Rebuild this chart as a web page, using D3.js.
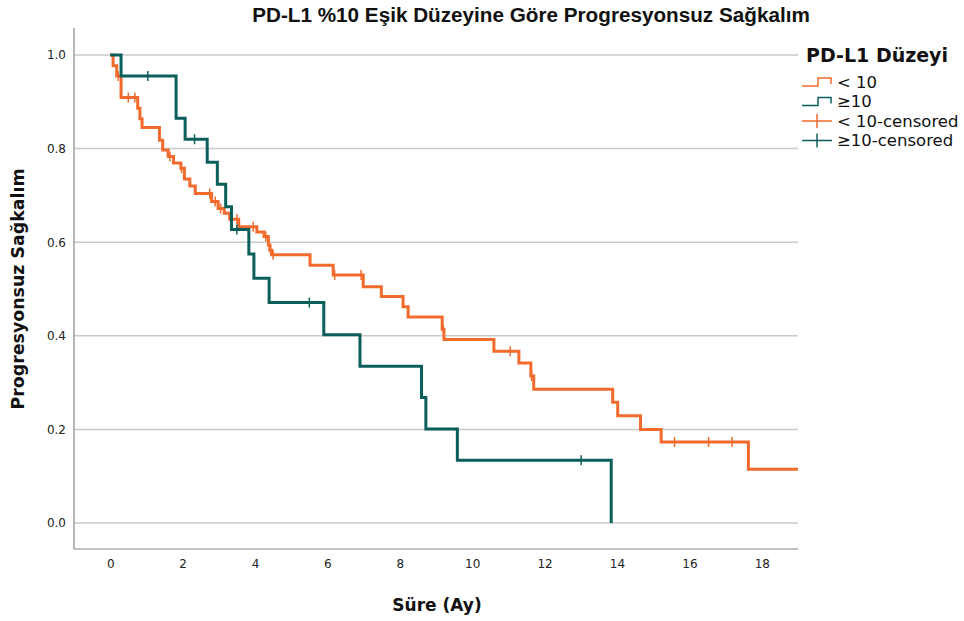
<!DOCTYPE html>
<html>
<head>
<meta charset="utf-8">
<script src="https://cdn.jsdelivr.net/npm/d3@7"></script>
<style>
  body { margin: 0; background: #fff; }
  text { font-family: "DejaVu Sans", Verdana, sans-serif; }
</style>
</head>
<body>
<svg id="chart" width="964" height="621"></svg>
<script>
// data
var groups = ["< 10", "≥10"];

// PD-L1 < 10 (orange)
var lowTimes = [0, 0.08, 0.18, 0.30, 0.76, 0.82, 0.88, 1.36, 1.45, 1.60, 1.75, 1.95, 2.05, 2.20, 2.35,
  2.80, 2.98, 3.15, 3.30, 3.55, 4.05, 4.25, 4.37, 4.41, 4.46, 5.52, 6.16, 6.99, 7.49, 8.09, 8.23,
  9.17, 9.22, 10.60, 11.29, 11.62, 11.70, 13.88, 14.02, 14.65, 15.22, 17.63, 19.0];
var lowSurv = [1, 0.977, 0.955, 0.909, 0.886, 0.864, 0.845, 0.818, 0.797, 0.783, 0.769, 0.758, 0.735, 0.720, 0.704,
  0.687, 0.672, 0.662, 0.649, 0.633, 0.622, 0.612, 0.594, 0.583, 0.573, 0.551, 0.530, 0.505, 0.484, 0.462, 0.440,
  0.414, 0.392, 0.367, 0.342, 0.314, 0.286, 0.258, 0.229, 0.200, 0.173, 0.115, 0.115];
var lowCensored = [0.22, 0.50, 0.68, 1.65, 1.97, 2.75, 2.90, 3.05, 3.50, 3.95, 4.30, 4.43, 4.50,
  6.20, 6.93, 9.20, 11.05, 11.64, 15.59, 16.53, 17.18];

// PD-L1 >= 10 (teal)
var highTimes = [0, 0.30, 1.82, 2.07, 2.68, 2.96, 3.19, 3.35, 3.83, 3.97, 4.39, 5.90, 6.90, 8.60, 8.72, 9.59, 13.84];
var highSurv = [1, 0.955, 0.865, 0.820, 0.771, 0.724, 0.676, 0.627, 0.575, 0.523, 0.471, 0.402, 0.335, 0.268, 0.201, 0.134, 0];
var highCensored = [1.04, 2.33, 3.50, 5.50, 13.01];

var xTicks = [0, 2, 4, 6, 8, 10, 12, 14, 16, 18];
var yTicks = [0, 0.2, 0.4, 0.6, 0.8, 1.0];

var colors = ["#f36b2c", "#0b5f5b"];

var svg = d3.select("#chart");

var x = d3.scaleLinear().domain([-1, 19]).range([74, 798]);
var y = d3.scaleLinear().domain([0, 1]).range([523, 55]);
var plotTop = 28, plotBottom = 549;

// gridlines
svg.append("g").selectAll("line")
  .data(yTicks)
  .enter().append("line")
  .attr("x1", x(-1)).attr("x2", x(19))
  .attr("y1", function (d) { return y(d); })
  .attr("y2", function (d) { return y(d); })
  .attr("stroke", "#cbcbcb")
  .attr("stroke-width", 1.5);

// axes
var yAxis = d3.axisLeft(y).tickValues(yTicks).tickFormat(d3.format(".1f")).tickSize(0).tickPadding(8);
var xAxis = d3.axisBottom(x).tickValues(xTicks).tickFormat(d3.format("d")).tickSize(0).tickPadding(10);

var gy = svg.append("g").attr("transform", "translate(" + x(-1) + ",0)").call(yAxis);
gy.select(".domain").remove();
gy.append("line").attr("x1", 0).attr("x2", 0).attr("y1", plotTop).attr("y2", plotBottom)
  .attr("stroke", "#888").attr("stroke-width", 1.2);

var gx = svg.append("g").attr("transform", "translate(0," + plotBottom + ")").call(xAxis);
gx.select(".domain").remove();
gx.append("line").attr("x1", x(-1)).attr("x2", x(19)).attr("y1", 0).attr("y2", 0)
  .attr("stroke", "#888").attr("stroke-width", 1.2);

svg.selectAll(".tick text")
  .attr("fill", "#222")
  .style("font-size", "12px")
  .style("font-family", "'DejaVu Sans', Verdana, sans-serif");

// survival curves
var line = d3.line()
  .x(function (d) { return x(d[0]); })
  .y(function (d) { return y(d[1]); })
  .curve(d3.curveStepAfter);

function survAt(times, surv, t) {
  var v = surv[0];
  for (var i = 0; i < times.length; i++) {
    if (times[i] <= t) v = surv[i];
  }
  return v;
}

var series = [
  { times: lowTimes, surv: lowSurv, cens: lowCensored },
  { times: highTimes, surv: highSurv, cens: highCensored }
];

series.forEach(function (s, i) {
  var pts = d3.zip(s.times, s.surv);
  svg.append("path")
    .attr("d", line(pts))
    .attr("fill", "none")
    .attr("stroke", colors[i])
    .attr("stroke-width", 3);

  svg.append("g").selectAll("line")
    .data(s.cens)
    .enter().append("line")
    .attr("x1", function (d) { return x(d); })
    .attr("x2", function (d) { return x(d); })
    .attr("y1", function (d) { return y(survAt(s.times, s.surv, d)) - 5; })
    .attr("y2", function (d) { return y(survAt(s.times, s.surv, d)) + 5; })
    .attr("stroke", colors[i])
    .attr("stroke-width", 1.5);
});

// title and axis titles
svg.append("text")
  .attr("x", 531).attr("y", 22)
  .attr("text-anchor", "middle")
  .style("font-family", "'Liberation Sans', Arial, sans-serif")
  .style("font-size", "20.7px").style("font-weight", "bold")
  .attr("fill", "#111")
  .text("PD-L1 %10 Eşik Düzeyine Göre Progresyonsuz Sağkalım");

svg.append("text")
  .attr("x", 437).attr("y", 611)
  .attr("text-anchor", "middle")
  .style("font-size", "17px").style("font-weight", "bold")
  .attr("fill", "#111")
  .text("Süre (Ay)");

svg.append("text")
  .attr("transform", "translate(24,289) rotate(-90)")
  .attr("text-anchor", "middle")
  .style("font-size", "17.4px").style("font-weight", "bold")
  .attr("fill", "#111")
  .text("Progresyonsuz Sağkalım");

// legend
var legend = svg.append("g").attr("transform", "translate(802,0)");
legend.append("text")
  .attr("x", 4).attr("y", 62)
  .style("font-size", "19px").style("font-weight", "bold")
  .attr("fill", "#111")
  .text("PD-L1 Düzeyi");

var legendItems = [
  { label: groups[0], color: colors[0], kind: "step" },
  { label: groups[1], color: colors[1], kind: "step" },
  { label: groups[0] + "-censored", color: colors[0], kind: "cens" },
  { label: groups[1] + "-censored", color: colors[1], kind: "cens" }
];

legendItems.forEach(function (d, i) {
  var cy = 82 + i * 19.5;
  var g = legend.append("g").attr("transform", "translate(0," + cy + ")");
  if (d.kind === "step") {
    g.append("path")
      .attr("d", "M0,4 H16 V-4 H29 V2")
      .attr("fill", "none").attr("stroke", d.color).attr("stroke-width", 1.5);
  } else {
    g.append("line").attr("x1", 0).attr("x2", 30).attr("y1", 0).attr("y2", 0)
      .attr("stroke", d.color).attr("stroke-width", 1.5);
    g.append("line").attr("x1", 15).attr("x2", 15).attr("y1", -7).attr("y2", 7)
      .attr("stroke", d.color).attr("stroke-width", 1.5);
  }
  g.append("text")
    .attr("x", 35).attr("y", 5.5)
    .style("font-size", "16.5px")
    .attr("fill", "#111")
    .text(d.label);
});
</script>
</body>
</html>
